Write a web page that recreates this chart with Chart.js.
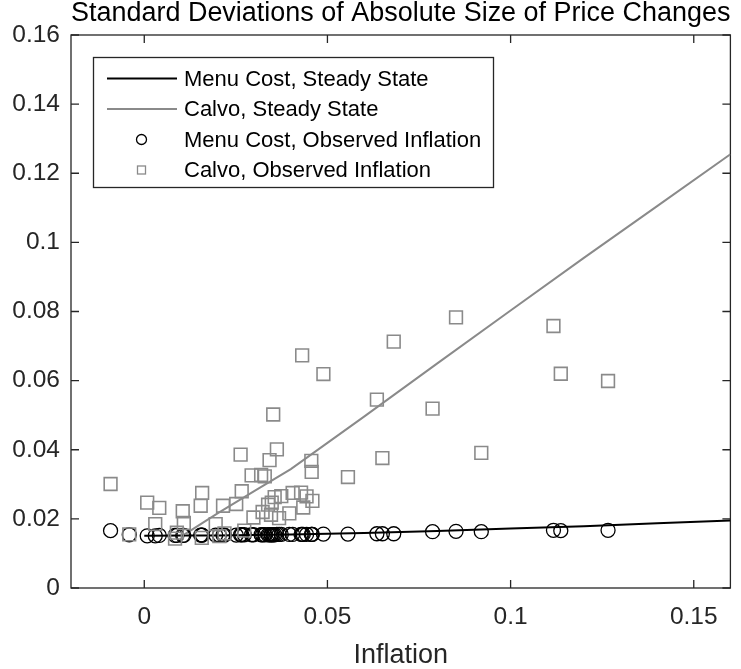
<!DOCTYPE html>
<html>
<head>
<meta charset="utf-8">
<title>Standard Deviations of Absolute Size of Price Changes</title>
<script src="https://cdn.jsdelivr.net/npm/chart.js@4.4.1/dist/chart.umd.min.js"></script>
<style>
  html,body{margin:0;padding:0;background:#fff;}
  #wrap{position:relative;width:741px;height:669px;}
</style>
</head>
<body>
<div id="wrap"><canvas id="sdChart"></canvas></div>
<script>
// Observed inflation (one entry per observation) and model SDs at that inflation
const obsInflation = [-0.0092,-0.0041,0.0008,0.0030,0.0041,0.0084,0.0089,0.0105,0.0108,0.0154,
    0.0157,0.0158,0.0195,0.0205,0.0215,0.0219,0.0251,0.0263,0.0266,0.0273,
    0.0293,0.0298,0.0319,0.0323,0.0329,0.0338,0.0342,0.0346,0.0348,0.0352,
    0.0356,0.0362,0.0368,0.0374,0.0396,0.0405,0.0428,0.0431,0.0434,0.0443,
    0.0456,0.0457,0.0459,0.0489,0.0556,0.0635,0.0650,0.0681,0.0787,0.0851,
    0.0920,0.1117,0.1137,0.1266];
const menuObserved = [0.0166,0.0154,0.0151,0.0151,0.0152,0.0152,0.0152,0.0152,0.0152,0.0153,
    0.0153,0.0153,0.0153,0.0153,0.0153,0.0153,0.0153,0.0154,0.0154,0.0154,
    0.0154,0.0154,0.0154,0.0154,0.0154,0.0154,0.0154,0.0154,0.0154,0.0154,
    0.0154,0.0155,0.0155,0.0155,0.0155,0.0155,0.0155,0.0155,0.0155,0.0155,
    0.0155,0.0155,0.0155,0.0156,0.0156,0.0157,0.0157,0.0157,0.0163,0.0164,
    0.0163,0.0167,0.0166,0.0167];
const calvoObserved = [0.0301,0.0155,0.0247,0.0185,0.0232,0.0143,0.0160,0.0222,0.0188,0.0238,
    0.0145,0.0275,0.0185,0.0150,0.0238,0.0158,0.0243,0.0386,0.0280,0.0166,
    0.0326,0.0204,0.0327,0.0220,0.0323,0.0241,0.0370,0.0212,0.0247,0.0502,
    0.0263,0.0401,0.0202,0.0266,0.0216,0.0275,0.0276,0.0673,0.0233,0.0265,
    0.0368,0.0336,0.0252,0.0619,0.0321,0.0545,0.0376,0.0713,0.0519,0.0783,
    0.0391,0.0758,0.0620,0.0599];

// Steady state curves
const ssInflation = [0,0.011,0.02,0.03,0.04,0.05,0.06,0.08,0.10,0.12,0.14,0.16];
const menuSteady  = [0.0151,0.0152,0.0152,0.0153,0.0155,0.0157,0.0159,0.0165,0.0172,0.0179,0.0187,0.0195];
const calvoSteady = [null,0.0155,0.0216,0.0280,0.0344,0.0420,0.0496,0.0650,0.0803,0.0955,0.1105,0.1255];

const xTicks = [0,0.05,0.1,0.15];
const xTickLabels = ['0','0.05','0.1','0.15'];
const yTicks = [0,0.02,0.04,0.06,0.08,0.1,0.12,0.14,0.16];
const yTickLabels = ['0','0.02','0.04','0.06','0.08','0.1','0.12','0.14','0.16'];

const AXIS = '#262626', GRAY = '#8a8a8a';
const FONT = "'Liberation Sans', Arial, Helvetica, sans-serif";

const pts = (xs, ys) => xs.map((x,i) => ({x, y: ys[i]})).filter(p => p.y !== null);

// box round the axes with inward ticks on all four sides
const axesFrame = {
    id: 'axesFrame',
    beforeDatasetsDraw(chart) {
        const {ctx, chartArea: a, scales: {x, y}} = chart;
        ctx.save();
        ctx.strokeStyle = AXIS; ctx.lineWidth = 1.3;
        ctx.strokeRect(a.left, a.top, a.right - a.left, a.bottom - a.top);
        ctx.beginPath();
        x.ticks.forEach(t => {
            const px = x.getPixelForValue(t.value);
            ctx.moveTo(px, a.bottom); ctx.lineTo(px, a.bottom - 8);
            ctx.moveTo(px, a.top); ctx.lineTo(px, a.top + 8);
        });
        y.ticks.forEach(t => {
            const py = y.getPixelForValue(t.value);
            ctx.moveTo(a.left, py); ctx.lineTo(a.left + 8, py);
            ctx.moveTo(a.right, py); ctx.lineTo(a.right - 8, py);
        });
        ctx.stroke();
        ctx.restore();
    }
};

// boxed legend in the upper left corner
const legendBox = {
    id: 'legendBox',
    afterDatasetsDraw(chart) {
        const c = chart.ctx;
        const L = 93.5, T = 57.5, W = 400, H = 130;
        c.save();
        c.fillStyle = '#fff'; c.fillRect(L, T, W, H);
        c.strokeStyle = AXIS; c.lineWidth = 1.3; c.strokeRect(L, T, W, H);
        c.font = '22px ' + FONT; c.textBaseline = 'middle';
        chart.data.datasets.forEach((ds, i) => {
            const y = 78.5 + i * 30.5, mx = 141.5;
            if (ds.showLine) {
                c.strokeStyle = ds.borderColor; c.lineWidth = ds.borderWidth;
                c.beginPath(); c.moveTo(107, y); c.lineTo(177, y); c.stroke();
            } else if (ds.pointStyle === 'circle') {
                c.strokeStyle = ds.pointBorderColor; c.lineWidth = 1.3;
                c.beginPath(); c.arc(mx, y, 5, 0, Math.PI * 2); c.stroke();
            } else {
                c.strokeStyle = ds.pointBorderColor; c.lineWidth = 1.3;
                c.strokeRect(mx - 4, y - 4, 8, 8);
            }
            c.fillStyle = '#000';
            c.fillText(ds.label, 184, y + 1);
        });
        c.restore();
    }
};

document.addEventListener('DOMContentLoaded', () => {
    Chart.defaults.font.family = FONT;
    new Chart(document.getElementById('sdChart'), {
        type: 'scatter',
        data: {
            datasets: [
                { label: 'Menu Cost, Steady State', data: pts(ssInflation, menuSteady), showLine: true,
                  borderColor: '#000', borderWidth: 2, pointRadius: 0, tension: 0, order: 3 },
                { label: 'Calvo, Steady State', data: pts(ssInflation, calvoSteady), showLine: true,
                  borderColor: GRAY, borderWidth: 2, pointRadius: 0, tension: 0, order: 2 },
                { label: 'Menu Cost, Observed Inflation', data: pts(obsInflation, menuObserved), showLine: false,
                  pointStyle: 'circle', pointRadius: 7, pointBorderColor: '#000', pointBorderWidth: 1.3,
                  pointBackgroundColor: 'rgba(0,0,0,0)', order: 1 },
                { label: 'Calvo, Observed Inflation', data: pts(obsInflation, calvoObserved), showLine: false,
                  pointStyle: 'rect', pointRadius: 9, pointBorderColor: GRAY, pointBorderWidth: 1.6,
                  pointBackgroundColor: 'rgba(0,0,0,0)', order: 0 }
            ]
        },
        options: {
            responsive: true, maintainAspectRatio: false, animation: false,
            layout: { padding: { left: 0, right: 2, top: 0, bottom: 0 } },
            plugins: {
                legend: { display: false },
                tooltip: { enabled: false },
                title: { display: true, text: 'Standard Deviations of Absolute Size of Price Changes',
                         fullSize: false, color: '#000', padding: { top: 0, bottom: 8 },
                         font: { size: 27, weight: 'normal', lineHeight: 1 } }
            },
            scales: {
                x: { type: 'linear', min: -0.02, max: 0.16,
                     afterBuildTicks: s => { s.ticks = xTicks.map(v => ({value: v})); },
                     afterFit: s => { s.height = 81; },
                     ticks: { callback: (v, i) => xTickLabels[i], color: AXIS, padding: 15,
                              maxRotation: 0, autoSkip: false, font: { size: 24.5 } },
                     grid: { display: false, drawTicks: false }, border: { display: false },
                     title: { display: true, text: 'Inflation', color: AXIS, padding: { top: 0, bottom: 0 },
                              font: { size: 27, lineHeight: 1 } } },
                y: { type: 'linear', min: 0, max: 0.16,
                     afterBuildTicks: s => { s.ticks = yTicks.map(v => ({value: v})); },
                     afterFit: s => { s.width = 71; },
                     ticks: { callback: (v, i) => yTickLabels[i], color: AXIS, padding: 11,
                              autoSkip: false, font: { size: 24.5 } },
                     grid: { display: false, drawTicks: false }, border: { display: false } }
            }
        },
        plugins: [axesFrame, legendBox]
    });
});
</script>
</body>
</html>
